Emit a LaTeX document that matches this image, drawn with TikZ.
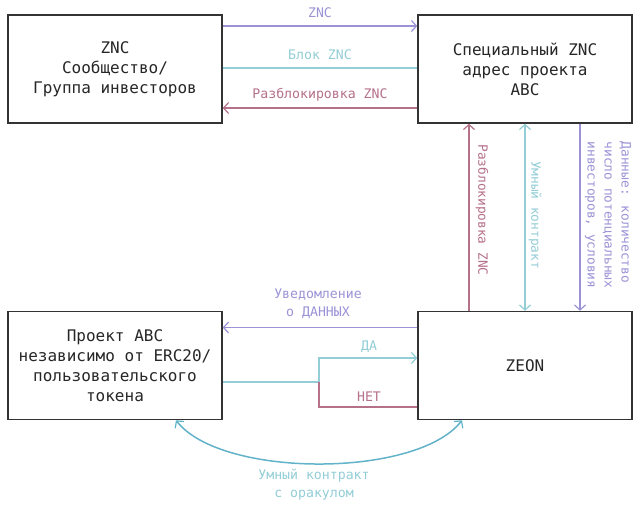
\documentclass[tikz,border=0pt]{standalone}
\usepackage{fontspec}
\setmainfont{DejaVu Sans Mono}
\usetikzlibrary{arrows.meta}
\definecolor{cpurp}{HTML}{9B93D6}
\definecolor{cteal}{HTML}{93CDD6}
\definecolor{cred}{HTML}{B5708A}
\definecolor{cteald}{HTML}{62B3C9}
\definecolor{cbox}{HTML}{333333}
\begin{document}
\begin{tikzpicture}[x=1pt,y=-1pt,
  box/.style={draw=cbox,line width=1.5pt,minimum width=214pt,minimum height=108pt,align=center,
    font=\fontsize{16}{20}\selectfont,text=black!85},
  conn/.style={line width=1.5pt},
  tip/.style={-{Straight Barb[length=5pt,width=11pt,line width=1.2pt]}},
  dtip/.style={{Straight Barb[length=5pt,width=11pt,line width=1.2pt]}-{Straight Barb[length=5pt,width=11pt,line width=1.2pt]}},
  lbl/.style={font=\fontsize{13.2}{18}\selectfont,align=center,inner sep=1pt},
  vlbl/.style={font=\fontsize{12.8}{17}\selectfont,align=left,rotate=-90,inner sep=1pt}]
\useasboundingbox (0,0) rectangle (640,514);
\node[box] (A) at (115,69) {ZNC\\Сообщество/\\Группа инвесторов};
\node[box] (B) at (525,69) {Специальный ZNC\\адрес проекта\\ABC};
\node[box] (C) at (115,365.5) {Проект ABC\\независимо от ERC20/\\пользовательского\\токена};
\node[box] (D) at (525,365.5) {ZEON};
% top connectors
\draw[conn,cpurp,tip] ([yshift=43pt]A.east) -- ([yshift=43pt]B.west);
\draw[conn,cteal] ([yshift=1pt]A.east) -- ([yshift=1pt]B.west);
\draw[conn,cred,tip] ([yshift=-39pt]B.west) -- ([yshift=-39pt]A.east);
\node[lbl,text=cpurp] (l1) at (320,13) {ZNC};
\node[lbl,text=cteal] (l2) at (320,55) {Блок ZNC};
\node[lbl,text=cred] (l3) at (320,95) {Разблокировка ZNC};
% vertical connectors
\draw[conn,cred,tip] ([xshift=-56pt]D.north) -- ([xshift=-56pt]B.south);
\draw[conn,cteal,dtip] (B.south) -- (D.north);
\draw[conn,cpurp,tip] ([xshift=55pt]B.south) -- ([xshift=55pt]D.north);
\node[vlbl,text=cred] (l4) at (482,210) {Разблокировка ZNC};
\node[vlbl,text=cteal] (l5) at (535,215) {Умный контракт};
\node[vlbl,text=cpurp] (l6) at (608,215) {Данные: количество\\число потенциальных\\инвесторов, условия};
% bottom connectors
\draw[conn,cpurp,tip] ([yshift=38pt]D.west) -- ([yshift=38pt]C.east);
\node[lbl,text=cpurp] (l7) at (318,304) {Уведомление\\о ДАННЫХ};
\coordinate (J) at (319,382);
\draw[conn,cteal] ([yshift=-16.5pt]C.east) -- (J);
\draw[conn,cteal,tip] (J) -- (J |- 0,358) -- ([yshift=7.5pt]D.west);
\draw[conn,cred] (J) -- (J |- 0,407) -- ([yshift=-41.5pt]D.west);
\node[lbl,text=cteal] (l8) at (369,347) {ДА};
\node[lbl,text=cred] (l9) at (369,397) {НЕТ};
% curved connector
\draw[conn,cteald,dtip]
  ([xshift=61pt]C.south) .. controls +(45,58) and +(-45,58) .. ([xshift=-63pt]D.south);
\node[lbl,text=cteal] (l10) at (314,485) {Умный контракт\\с оракулом};
\end{tikzpicture}
\end{document}
